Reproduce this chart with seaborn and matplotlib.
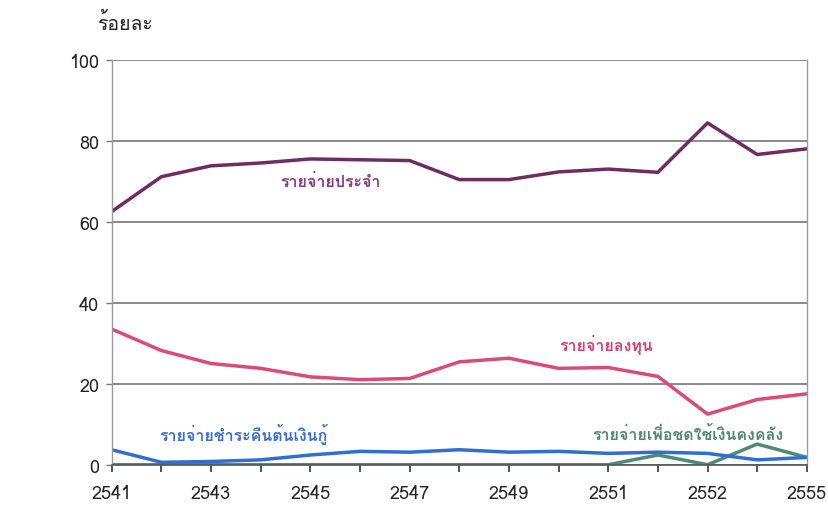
import matplotlib
matplotlib.use("Agg")
import matplotlib.pyplot as plt
from matplotlib import font_manager
import pandas as pd
import seaborn as sns

# data (percent of total expenditure)
years = [2541, 2542, 2543, 2544, 2545, 2546, 2547, 2548,
         2549, 2550, 2551, 2552, 2553, 2554, 2555]
recurrent = [62.5, 71.1, 73.8, 74.5, 75.5, 75.3, 75.1, 70.4,
             70.4, 72.3, 73.0, 72.2, 84.4, 76.6, 78.0]
capital = [33.5, 28.2, 25.0, 23.8, 21.7, 21.0, 21.3, 25.4,
           26.3, 23.8, 24.0, 21.8, 12.5, 16.1, 17.5]
loan_repay = [3.7, 0.6, 0.8, 1.2, 2.4, 3.3, 3.1, 3.7,
              3.1, 3.3, 2.8, 3.1, 2.8, 1.2, 1.8]
treasury = [0, 0, 0, 0, 0, 0, 0, 0,
            0, 0, 0, 2.4, 0, 5.1, 1.8]

series_names = ["รายจ่ายประจำ", "รายจ่ายลงทุน",
                "รายจ่ายชำระคืนต้นเงินกู้", "รายจ่ายเพื่อชดใช้เงินคงคลัง"]
tick_years = [2541, 2543, 2545, 2547, 2549, 2551, 2553, 2555]
tick_labels = ["2541", "2543", "2545", "2547", "2549", "2551", "2552", "2555"]
y_ticks = [0, 20, 40, 60, 80, 100]


def find_thai_font():
    """Return the name of an installed font that has Thai glyphs."""
    from fontTools.ttLib import TTFont
    for f in font_manager.fontManager.ttflist:
        try:
            tt = TTFont(f.fname, fontNumber=0, lazy=True)
            if 0x0E23 in tt.getBestCmap():
                return f.name
        except Exception:
            continue
    return None


sns.set_theme(style="white")
thai = find_thai_font()
plt.rcParams["font.family"] = [thai, "DejaVu Sans"] if thai else ["DejaVu Sans"]

df = pd.DataFrame({
    "year": years * 4,
    "value": recurrent + capital + loan_repay + treasury,
    "series": [s for s in series_names for _ in years],
})

line_colors = ["#6f2c61", "#dd4a78", "#2f6ed2", "#4e8b74"]
text_colors = ["#8a3a7e", "#d84070", "#3b6fd4", "#4f8a6e"]

fig = plt.figure(figsize=(8.29, 5.06), dpi=100)
ax = fig.add_axes([0.1347, 0.0796, 0.8386, 0.8004])

sns.lineplot(data=df, x="year", y="value", hue="series",
             palette=dict(zip(series_names, line_colors)),
             hue_order=series_names[::-1], linewidth=2.5,
             legend=False, ax=ax)

ax.set_xlim(years[0], years[-1])
ax.set_ylim(0, 100)
ax.set_yticks(y_ticks)
ax.set_xticks(years)
ax.set_xticklabels([tick_labels[tick_years.index(y)] if y in tick_years else ""
                    for y in years])
ax.tick_params(axis="x", length=5, width=1.3, color="#444444",
               labelsize=13, pad=9, direction="out", bottom=True,
               labelcolor="#222222")
ax.tick_params(axis="y", length=4, width=1, color="#777777",
               labelsize=13, pad=5, left=True, labelcolor="#222222")
ax.yaxis.grid(True, color="#6a6a6a", linewidth=1.1)
ax.set_axisbelow(True)
ax.set_xlabel("")
ax.set_ylabel("")

for side in ["left", "right"]:
    ax.spines[side].set_color("#9a9a9a")
    ax.spines[side].set_linewidth(1)
ax.spines["top"].set_visible(False)
ax.spines["bottom"].set_color("#555555")
ax.spines["bottom"].set_linewidth(1.2)

# inline series labels
label_pos = [(2545.4, 70.1), (2550.95, 29.8), (2543.65, 7.8), (2552.6, 7.8)]
for name, (lx, ly), c in zip(series_names, label_pos, text_colors):
    ax.text(lx, ly, name, color=c, fontsize=11.5, fontweight="bold",
            ha="center", va="center")

fig.text(0.117, 0.953, "ร้อยละ", fontsize=14, ha="left", va="center",
         color="#222222")

fig.savefig("out.png", dpi=100, facecolor="white")
